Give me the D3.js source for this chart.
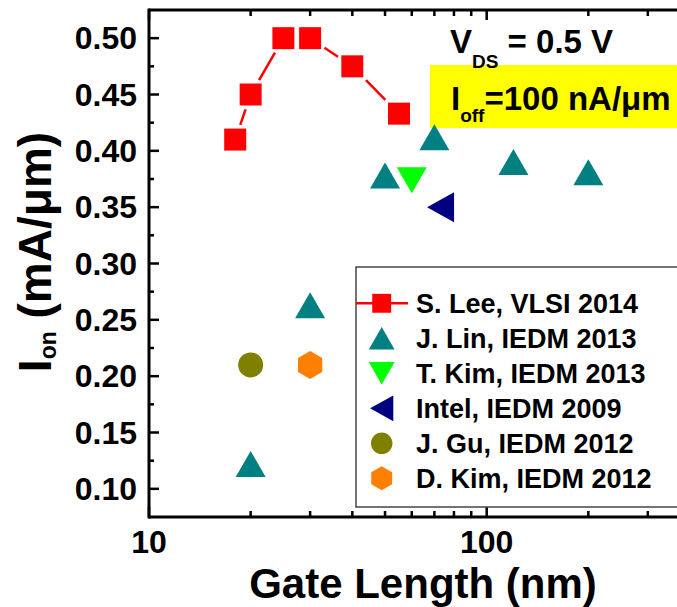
<!DOCTYPE html>
<html>
<head>
<meta charset="utf-8">
<script src="https://cdn.jsdelivr.net/npm/d3@7"></script>
<style>
  body { margin: 0; background: #fff; }
  svg { display: block; font-family: "Liberation Sans", Arial, sans-serif; font-weight: bold; }
</style>
</head>
<body>
<div id="chart"></div>
<script>
'use strict';

// data (gate length in nm, Ion in mA/um)
const leeLength = [18, 20, 25, 30, 40, 55];
const leeIon = [0.41, 0.45, 0.50, 0.50, 0.475, 0.433];
const linLength = [20, 30, 50, 70, 120, 200];
const linIon = [0.122, 0.263, 0.378, 0.412, 0.39, 0.381];
const tkimLength = [60];
const tkimIon = [0.374];
const intelLength = [73];
const intelIon = [0.35];
const guLength = [20];
const guIon = [0.21];
const dkimLength = [30];
const dkimIon = [0.21];

const seriesNames = ["S. Lee, VLSI 2014", "J. Lin, IEDM 2013", "T. Kim, IEDM 2013",
                     "Intel, IEDM 2009", "J. Gu, IEDM 2012", "D. Kim, IEDM 2012"];
const yTicks = [0.10, 0.15, 0.20, 0.25, 0.30, 0.35, 0.40, 0.45, 0.50];
const xTickLabels = [10, 100];

const width = 677, height = 607;
const plot = { left: 149, right: 690, top: 10, bottom: 517 };

const x = d3.scaleLog().domain([10, 400]).range([plot.left, plot.right]);
const y = d3.scaleLinear().domain([0.075, 0.525]).range([plot.bottom, plot.top]);

const svg = d3.select("#chart").append("svg")
    .attr("width", width)
    .attr("height", height);

// marker shapes, centred on 0,0
function shapePath(kind, s) {
    const p = d3.path();
    if (kind === "square") {
        const h = 11 * s;
        p.rect(-h, -h, 2 * h, 2 * h);
    } else if (kind === "up") {
        const w = 15 * s, h = 13 * s;
        p.moveTo(0, -h); p.lineTo(w, h); p.lineTo(-w, h); p.closePath();
    } else if (kind === "down") {
        const w = 15 * s, h = 13 * s;
        p.moveTo(0, h); p.lineTo(w, -h); p.lineTo(-w, -h); p.closePath();
    } else if (kind === "left") {
        const w = 13.5 * s, h = 15 * s;
        p.moveTo(-w, 0); p.lineTo(w, -h); p.lineTo(w, h); p.closePath();
    } else if (kind === "circle") {
        p.arc(0, 0, 12.5 * s, 0, 2 * Math.PI);
    } else if (kind === "hex") {
        const r = 14 * s;
        for (let i = 0; i < 6; i++) {
            const a = -Math.PI / 2 + i * Math.PI / 3;
            if (i === 0) p.moveTo(r * Math.cos(a), r * Math.sin(a));
            else p.lineTo(r * Math.cos(a), r * Math.sin(a));
        }
        p.closePath();
    }
    return p.toString();
}

const series = [
    { name: seriesNames[0], xs: leeLength, ys: leeIon, kind: "square", color: "#ff0000", line: true },
    { name: seriesNames[1], xs: linLength, ys: linIon, kind: "up", color: "#008080" },
    { name: seriesNames[2], xs: tkimLength, ys: tkimIon, kind: "down", color: "#00ff00" },
    { name: seriesNames[3], xs: intelLength, ys: intelIon, kind: "left", color: "#000080" },
    { name: seriesNames[4], xs: guLength, ys: guIon, kind: "circle", color: "#808000" },
    { name: seriesNames[5], xs: dkimLength, ys: dkimIon, kind: "hex", color: "#ff8000" }
];

// annotation box behind everything
svg.append("rect")
    .attr("x", 430).attr("y", 65)
    .attr("width", 260).attr("height", 63)
    .attr("fill", "#ffff00");

// red connecting line, with small gaps at the squares
const lee = series[0];
const pts = lee.xs.map((v, i) => [x(v), y(lee.ys[i])]);
for (let i = 0; i < pts.length - 1; i++) {
    const [x0, y0] = pts[i], [x1, y1] = pts[i + 1];
    const len = Math.hypot(x1 - x0, y1 - y0);
    const ux = (x1 - x0) / len, uy = (y1 - y0) / len;
    const cut = 11 / Math.max(Math.abs(ux), Math.abs(uy)) + 4;
    if (len <= 2 * cut) continue;
    svg.append("line")
        .attr("x1", x0 + ux * cut).attr("y1", y0 + uy * cut)
        .attr("x2", x1 - ux * cut).attr("y2", y1 - uy * cut)
        .attr("stroke", lee.color)
        .attr("stroke-width", 2.5);
}

// markers
series.forEach(s => {
    svg.append("g").selectAll("path")
        .data(s.xs.map((v, i) => [v, s.ys[i]]))
        .enter()
        .append("path")
        .attr("transform", d => `translate(${x(d[0])},${y(d[1])})`)
        .attr("d", shapePath(s.kind, 1))
        .attr("fill", s.color);
});

// axes frame
const frame = svg.append("g")
    .attr("stroke", "#000")
    .attr("stroke-width", 3)
    .attr("fill", "none");
frame.append("line").attr("x1", plot.left).attr("x2", plot.left).attr("y1", plot.top - 1.5).attr("y2", plot.bottom + 1.5);
frame.append("line").attr("x1", plot.left).attr("x2", width + 5).attr("y1", plot.top).attr("y2", plot.top);
frame.append("line").attr("x1", plot.left).attr("x2", width + 5).attr("y1", plot.bottom).attr("y2", plot.bottom);

// log x ticks, inward on bottom and top
const xMinor = [];
for (const dec of [10, 100]) {
    for (let k = 2; k <= 9; k++) if (dec * k <= 400) xMinor.push(dec * k);
}
const tickG = svg.append("g").attr("stroke", "#000").attr("stroke-width", 2.5);
[[xTickLabels, 10], [xMinor, 6]].forEach(([vals, len]) => {
    vals.forEach(v => {
        tickG.append("line").attr("x1", x(v)).attr("x2", x(v)).attr("y1", plot.bottom).attr("y2", plot.bottom - len);
        tickG.append("line").attr("x1", x(v)).attr("x2", x(v)).attr("y1", plot.top).attr("y2", plot.top + len);
    });
});

// y ticks, major and minor
yTicks.forEach(v => {
    tickG.append("line").attr("x1", plot.left).attr("x2", plot.left + 10).attr("y1", y(v)).attr("y2", y(v));
});
yTicks.map(v => v - 0.025).concat([yTicks[yTicks.length - 1] + 0.025]).forEach(v => {
    if (v > 0.076 && v < 0.524) {
        tickG.append("line").attr("x1", plot.left).attr("x2", plot.left + 5).attr("y1", y(v)).attr("y2", y(v));
    }
});

// tick labels
svg.append("g").selectAll("text")
    .data(yTicks)
    .enter()
    .append("text")
    .attr("x", plot.left - 12)
    .attr("y", d => y(d) + 11)
    .attr("text-anchor", "end")
    .style("font-size", "32px")
    .text(d => d3.format(".2f")(d));

svg.append("g").selectAll("text")
    .data(xTickLabels)
    .enter()
    .append("text")
    .attr("x", d => x(d))
    .attr("y", 553)
    .attr("text-anchor", "middle")
    .style("font-size", "32px")
    .text(d => d);

// axis titles
svg.append("text")
    .attr("x", 423)
    .attr("y", 598)
    .attr("text-anchor", "middle")
    .style("font-size", "42px")
    .text("Gate Length (nm)");

const yTitle = svg.append("text")
    .attr("transform", "translate(51,252) rotate(-90)")
    .attr("text-anchor", "middle")
    .style("font-size", "46px");
yTitle.append("tspan").text("I");
yTitle.append("tspan").attr("dy", 5).style("font-size", "23px").text("on");
yTitle.append("tspan").attr("dy", -5).text(" (mA/\u03bcm)");

// annotations
const vds = svg.append("text").attr("x", 450).attr("y", 53).style("font-size", "33px");
vds.append("tspan").text("V");
vds.append("tspan").attr("dy", 15).style("font-size", "19px").text("DS");
vds.append("tspan").attr("dy", -15).text(" = 0.5 V");

const ioff = svg.append("text").attr("x", 451).attr("y", 110).style("font-size", "33px");
ioff.append("tspan").text("I");
ioff.append("tspan").attr("dy", 12).style("font-size", "19px").text("off");
ioff.append("tspan").attr("dy", -12).text("=100 nA/\u03bcm");

// legend
svg.append("rect")
    .attr("x", 356).attr("y", 267)
    .attr("width", 340).attr("height", 240)
    .attr("fill", "#fff")
    .attr("stroke", "#444")
    .attr("stroke-width", 1.5);

const legend = svg.selectAll(".legend")
    .data(series)
    .enter()
    .append("g")
    .attr("class", "legend")
    .attr("transform", (d, i) => `translate(0,${303.3 + i * 35})`);

legend.filter(d => d.line)
    .append("line")
    .attr("x1", 356).attr("x2", 408)
    .attr("stroke", d => d.color)
    .attr("stroke-width", 2.5);

legend.append("path")
    .attr("transform", "translate(381.7,0)")
    .attr("d", d => shapePath(d.kind, 0.86))
    .attr("fill", d => d.color);

legend.append("text")
    .attr("x", 416)
    .attr("y", 9.5)
    .style("font-size", "27px")
    .text(d => d.name);
</script>
</body>
</html>
